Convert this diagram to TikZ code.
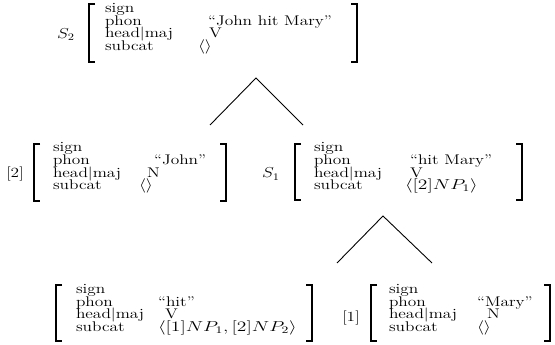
\documentclass[tikz,border=0pt]{standalone}
\usepackage{graphicx}
\newcommand\wx[1]{\scalebox{1.24}[1]{#1}}
\newcommand\wm[1]{\scalebox{1.36}[1]{#1}}
\begin{document}
\begin{tikzpicture}[x=1pt,y=-1pt,
  txt/.style={anchor=base west,inner sep=0pt,outer sep=0pt,font=\fontsize{14}{14}\selectfont},
  lbl/.style={anchor=center,inner sep=0pt,font=\fontsize{14}{14}\selectfont},
  brk/.style={line width=1.6pt},
  branch/.style={line width=0.9pt}]
\useasboundingbox (0,0) rectangle (555,345);
\newcommand\lbrk[3]{\draw[brk] (#1+6,#2) -- (#1,#2) -- (#1,#3) -- (#1+6,#3);}
\newcommand\rbrk[3]{\draw[brk] (#1-6,#2) -- (#1,#2) -- (#1,#3) -- (#1-6,#3);}
% ---- top AVM S2
\node[lbl] (s2) at (66,35) {\wx{$S_2$}};
\lbrk{89}{4}{62}\rbrk{357}{4}{62}
\node[txt] (s2a1) at (105,13) {\wx{sign}};
\node[txt] (s2a2) at (105,25.5) {\wx{phon}};
\node[txt] (s2a3) at (105,38) {\wx{head\textbar maj}};
\node[txt] (s2a4) at (105,50.5) {\wx{subcat}};
\node[txt] (s2v2) at (208,25.5) {\wx{\textquotedblleft John hit Mary\textquotedblright}};
\node[txt] (s2v3) at (209,38) {\wx{V}};
\node[txt] (s2v4) at (198,50.5) {\wx{$\langle\rangle$}};
% ---- tree 1
\coordinate (t1) at (256,78);
\coordinate (t1l) at (210,125);
\coordinate (t1r) at (303,125);
\draw[branch] (t1l) -- (t1) -- (t1r);
% ---- middle left [2]
\node[lbl] (n2) at (15,174) {\wx{[2]}};
\lbrk{34}{144}{201}\rbrk{226}{144}{201}
\node[txt] (ja1) at (53,152) {\wx{sign}};
\node[txt] (ja2) at (53,164.5) {\wx{phon}};
\node[txt] (ja3) at (53,177) {\wx{head\textbar maj}};
\node[txt] (ja4) at (53,189.5) {\wx{subcat}};
\node[txt] (jv2) at (154,164.5) {\wx{\textquotedblleft John\textquotedblright}};
\node[txt] (jv3) at (147,177) {\wx{N}};
\node[txt] (jv4) at (139,189.5) {\wx{$\langle\rangle$}};
% ---- middle right S1
\node[lbl] (s1) at (271,174) {\wx{$S_1$}};
\lbrk{295}{144}{200}\rbrk{522}{144}{200}
\node[txt] (s1a1) at (314,152) {\wx{sign}};
\node[txt] (s1a2) at (314,164.5) {\wx{phon}};
\node[txt] (s1a3) at (314,177) {\wx{head\textbar maj}};
\node[txt] (s1a4) at (314,189.5) {\wx{subcat}};
\node[txt] (s1v2) at (410,164.5) {\wx{\textquotedblleft hit Mary\textquotedblright}};
\node[txt] (s1v3) at (410,177) {\wx{V}};
\node[txt] (s1v4) at (405,189.5) {\wm{$\langle[2]NP_1\rangle$}};
% ---- tree 2
\coordinate (t2) at (383,216);
\coordinate (t2l) at (337,263);
\coordinate (t2r) at (432,263);
\draw[branch] (t2l) -- (t2) -- (t2r);
% ---- bottom left (hit)
\lbrk{56}{285}{341}\rbrk{312}{285}{341}
\node[txt] (ha1) at (76,293.5) {\wx{sign}};
\node[txt] (ha2) at (76,306) {\wx{phon}};
\node[txt] (ha3) at (76,318.5) {\wx{head\textbar maj}};
\node[txt] (ha4) at (76,331) {\wx{subcat}};
\node[txt] (hv2) at (158,306) {\wx{\textquotedblleft hit\textquotedblright}};
\node[txt] (hv3) at (165,318.5) {\wx{V}};
\node[txt] (hv4) at (158,331) {\wm{$\langle[1]NP_1,[2]NP_2\rangle$}};
% ---- bottom right [1] Mary
\node[lbl] (n1) at (351,318) {\wx{[1]}};
\lbrk{371}{285}{341}\rbrk{550}{285}{341}
\node[txt] (ma1) at (389,293.5) {\wx{sign}};
\node[txt] (ma2) at (389,306) {\wx{phon}};
\node[txt] (ma3) at (389,318.5) {\wx{head\textbar maj}};
\node[txt] (ma4) at (389,331) {\wx{subcat}};
\node[txt] (mv2) at (477,306) {\wx{\textquotedblleft Mary\textquotedblright}};
\node[txt] (mv3) at (487,318.5) {\wx{N}};
\node[txt] (mv4) at (477,331) {\wx{$\langle\rangle$}};
\end{tikzpicture}
\end{document}
